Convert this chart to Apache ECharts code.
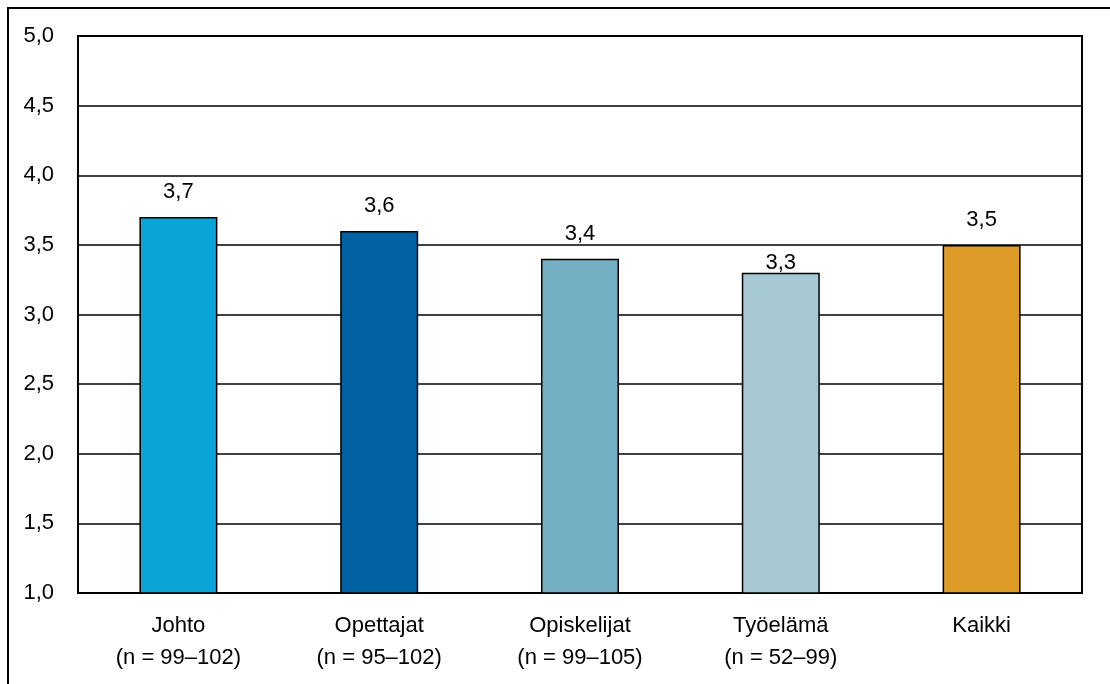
<!DOCTYPE html>
<html>
<head>
<meta charset="utf-8">
<script src="https://cdn.jsdelivr.net/npm/echarts@6/dist/echarts.min.js"></script>
<style>
  html, body { margin: 0; padding: 0; background: #fff; }
  #chart { width: 1110px; height: 684px; }
</style>
</head>
<body>
<div id="chart"></div>
<script>
// Group labels, sample sizes and mean scores
const categories = ['Johto', 'Opettajat', 'Opiskelijat', 'Työelämä', 'Kaikki'];
const sampleSizes = ['(n = 99–102)', '(n = 95–102)', '(n = 99–105)', '(n = 52–99)', ''];
const values = [3.7, 3.6, 3.4, 3.3, 3.5];
const barColors = ['#0aa5d6', '#0062a3', '#75afc3', '#a5c8d3', '#dc9a26'];
// gap between bar top and its value label (the Työelämä label sits close to its bar)
const labelGaps = [14, 14, 14, -1, 14];

const FONT = 'Liberation Sans, Arial, sans-serif';
const fmt = v => v.toFixed(1).replace('.', ',');

const chart = echarts.init(document.getElementById('chart'), null, { renderer: 'canvas' });

chart.setOption({
  backgroundColor: '#ffffff',
  animation: false,
  textStyle: { fontFamily: FONT },
  grid: {
    left: 78, right: 28, top: 36, bottom: 91,
    show: true, borderColor: '#000', borderWidth: 2, backgroundColor: 'transparent'
  },
  graphic: [
    { type: 'line', shape: { x1: 7, y1: 8, x2: 1110, y2: 8 }, style: { stroke: '#000', lineWidth: 2 } },
    { type: 'line', shape: { x1: 8, y1: 7, x2: 8, y2: 684 }, style: { stroke: '#000', lineWidth: 2 } }
  ],
  xAxis: {
    type: 'category',
    data: categories.map((c, i) => sampleSizes[i] ? c + '\n' + sampleSizes[i] : c),
    axisLine: { show: true, lineStyle: { color: '#000', width: 2 } },
    axisTick: { show: false },
    axisLabel: {
      color: '#000', fontSize: 22, lineHeight: 32, margin: 17,
      fontFamily: FONT
    }
  },
  yAxis: {
    type: 'value',
    min: 1, max: 5, interval: 0.5,
    axisLine: { show: true, lineStyle: { color: '#000', width: 2 } },
    axisTick: { show: false },
    splitLine: { show: true, lineStyle: { color: '#000', width: 1.5 } },
    axisLabel: {
      color: '#000', fontSize: 22, margin: 24,
      fontFamily: FONT,
      formatter: v => fmt(v)
    }
  },
  series: [{
    type: 'bar',
    barWidth: 78,
    data: values.map((v, i) => ({
      value: v,
      itemStyle: { color: barColors[i], borderColor: '#000', borderWidth: 1.5 },
      label: { distance: labelGaps[i] }
    })),
    label: {
      show: true, position: 'top',
      color: '#000', fontSize: 22,
      fontFamily: FONT,
      formatter: p => fmt(p.value)
    }
  }]
});
</script>
</body>
</html>
